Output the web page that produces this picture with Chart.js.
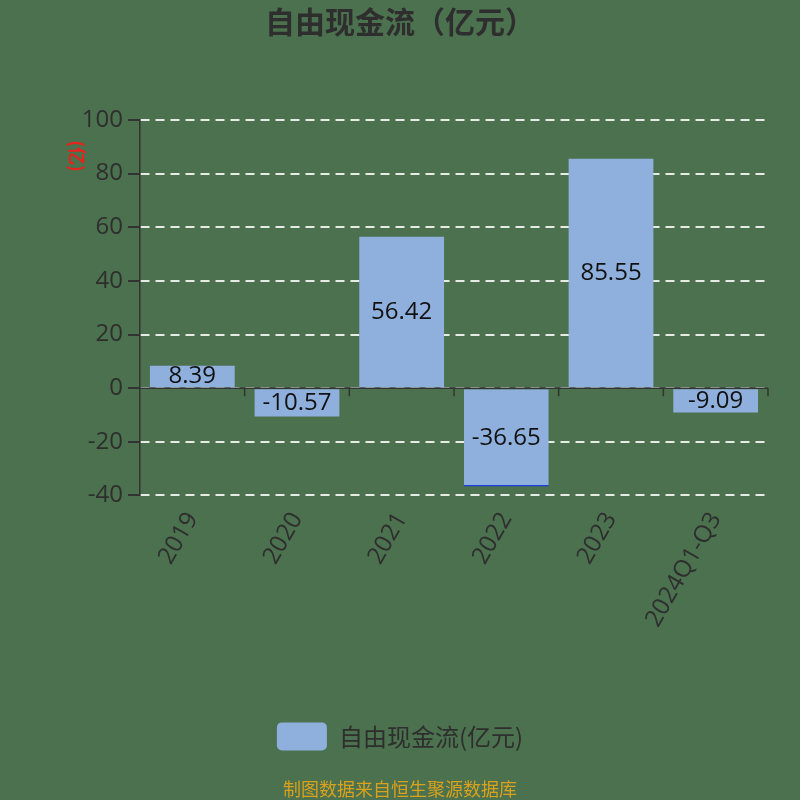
<!DOCTYPE html>
<html>
<head>
<meta charset="utf-8">
<script src="https://cdn.jsdelivr.net/npm/chart.js@4"></script>
<style>
  html, body { margin: 0; padding: 0; background: #4b714f; }
  #wrap { width: 800px; height: 800px; }
</style>
</head>
<body>
<div id="wrap"><canvas id="chart" width="800" height="800"></canvas></div>
<script>
// Données du graphique
const categories = ['2019', '2020', '2021', '2022', '2023', '2024Q1-Q3'];
const fcfValues = [8.39, -10.57, 56.42, -36.65, 85.55, -9.09];
const yTicks = [100, 80, 60, 40, 20, 0, -20, -40];
const yUnit = '(亿)';

const FONT = '"Open Sans", "Noto Sans CJK SC", sans-serif';
const CJK = '"Noto Sans CJK SC", "Open Sans", sans-serif';

// Ligne du zéro + petites graduations entre catégories
const zeroAxis = {
    id: 'zeroAxis',
    beforeDatasetsDraw(chart) {
        const { ctx, chartArea, scales } = chart;
        const y0 = scales.y.getPixelForValue(0);
        const n = categories.length;
        const step = (chartArea.right - chartArea.left) / n;
        ctx.save();
        ctx.strokeStyle = '#333';
        ctx.lineWidth = 1.5;
        ctx.beginPath();
        ctx.moveTo(chartArea.left, y0);
        ctx.lineTo(chartArea.right, y0);
        for (let i = 1; i <= n; i++) {
            const x = chartArea.left + step * i;
            ctx.moveTo(x, y0);
            ctx.lineTo(x, y0 + 8);
        }
        ctx.stroke();
        ctx.restore();
    }
};

// Unité de l'axe Y, tournée dans le sens horaire
const yUnitLabel = {
    id: 'yUnitLabel',
    afterDraw(chart) {
        const { ctx } = chart;
        ctx.save();
        ctx.translate(77, 156);
        ctx.rotate(Math.PI / 2);
        ctx.font = 'bold 18px ' + CJK;
        ctx.fillStyle = '#e8231b';
        ctx.textAlign = 'center';
        ctx.textBaseline = 'middle';
        ctx.fillText(yUnit, 0, 0);
        ctx.restore();
    }
};

// Étiquettes des valeurs au centre des barres
const barLabels = {
    id: 'barLabels',
    afterDatasetsDraw(chart) {
        const { ctx } = chart;
        const meta = chart.getDatasetMeta(0);
        ctx.save();
        ctx.font = '24px ' + FONT;
        ctx.fillStyle = '#111';
        ctx.textAlign = 'center';
        ctx.textBaseline = 'middle';
        meta.data.forEach((bar, i) => {
            const mid = (bar.y + bar.base) / 2;
            ctx.fillText(String(fcfValues[i]), bar.x, mid);
        });
        ctx.restore();
    }
};

const ctx = document.getElementById('chart').getContext('2d');
new Chart(ctx, {
    type: 'bar',
    data: {
        labels: categories,
        datasets: [{
            label: '自由现金流(亿元)',
            data: fcfValues,
            backgroundColor: '#8fb0dd',
            borderColor: '#1f3fd6',
            borderSkipped: false,
            borderWidth: c => (c.dataIndex === 3 ? { top: 0, left: 0, right: 0, bottom: 1.5 } : 0),
            barPercentage: 0.81,
            categoryPercentage: 1
        }]
    },
    options: {
        responsive: false,
        animation: false,
        layout: { padding: 0 },
        scales: {
            x: {
                offset: true,
                grid: { display: false },
                border: { display: false },
                ticks: {
                    minRotation: 60,
                    maxRotation: 60,
                    padding: 4,
                    color: '#2e2e2e',
                    font: { family: FONT, size: 24 }
                },
                afterFit(scale) { scale.height = 217; }
            },
            y: {
                min: -40,
                max: 100,
                afterBuildTicks(scale) { scale.ticks = yTicks.map(v => ({ value: v })); },
                grid: {
                    color: 'rgba(238,242,236,0.95)',
                    lineWidth: 2,
                    tickColor: '#333',
                    tickLength: 12,
                    tickBorderDash: []
                },
                border: { display: true, color: '#333', width: 1.5, dash: [9, 6] },
                ticks: {
                    color: '#2e2e2e',
                    padding: 5,
                    font: { family: FONT, size: 24 }
                },
                afterFit(scale) { scale.width = 140; }
            },
            // axe droit invisible : réserve la marge à droite du tracé
            yRight: {
                position: 'right',
                display: true,
                grid: { display: false },
                border: { display: false },
                ticks: { display: false },
                afterFit(scale) { scale.width = 32; }
            }
        },
        plugins: {
            title: {
                display: true,
                text: '自由现金流（亿元）',
                color: '#2e2e2e',
                font: { family: CJK, size: 30, weight: 'bold' },
                padding: { top: 4, bottom: 80 }
            },
            legend: {
                position: 'bottom',
                labels: {
                    boxWidth: 50,
                    boxHeight: 28,
                    useBorderRadius: true,
                    borderRadius: 5,
                    color: '#2e2e2e',
                    padding: 10,
                    font: { family: CJK, size: 24 }
                }
            },
            subtitle: {
                display: true,
                position: 'bottom',
                text: '制图数据来自恒生聚源数据库',
                color: '#d9a11c',
                font: { family: CJK, size: 18 },
                padding: { top: 18, bottom: 0 }
            },
            tooltip: { enabled: false }
        }
    },
    plugins: [zeroAxis, barLabels, yUnitLabel]
});
</script>
</body>
</html>
